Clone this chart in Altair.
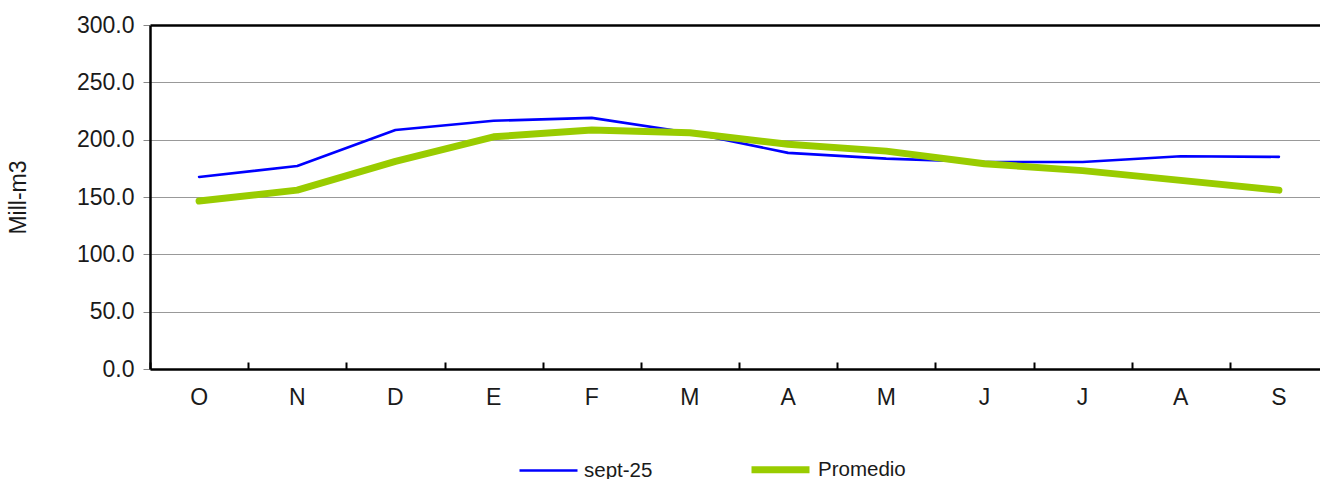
import altair as alt
import pandas as pd

# Month keys (unique) and the single-letter labels shown on the axis
month_keys = ["O", "N", "D", "E", "F", "M1", "A1", "M2", "J1", "J2", "A2", "S"]
sept25 = [167.5, 177.0, 208.5, 216.5, 219.0, 206.0, 188.5, 183.5, 180.5, 180.5, 185.5, 185.0]
promedio = [146.5, 156.0, 181.0, 202.5, 208.5, 206.0, 196.0, 190.0, 179.0, 173.0, 164.5, 156.0]
series_names = ["sept-25", "Promedio"]
series_colors = ["#0000FF", "#99CC00"]
series_widths = [2.6, 7.0]

rows = []
for name, vals in zip(series_names, [sept25, promedio]):
    for k, v in zip(month_keys, vals):
        rows.append({"mes": k, "valor": v, "serie": name})
df = pd.DataFrame(rows)

FONT = "Liberation Sans"
TEXT = "#1a1a1a"

x_scale = alt.Scale(domain=month_keys, range=[0, 1178], paddingInner=0, paddingOuter=0)
y_scale = alt.Scale(domain=[0, 300], nice=False, zero=True)
color_scale = alt.Scale(domain=series_names, range=series_colors)
width_scale = alt.Scale(domain=series_names, range=series_widths)

legend = alt.Legend(
    title=None, orient="none", direction="horizontal",
    legendX=368, legendY=412,
    symbolType="stroke", symbolSize=3364, symbolStrokeWidth=4,
    labelFont=FONT, labelFontSize=20.5, labelColor=TEXT, labelOffset=5,
    columnPadding=84,
)

y_enc = alt.Y(
    "valor:Q", scale=y_scale,
    axis=alt.Axis(
        title="Mill-m3", titleFont=FONT, titleFontSize=23, titleFontWeight="normal",
        titleColor=TEXT, titlePadding=46,
        values=[0, 50, 100, 150, 200, 250, 300], format=".1f",
        labelFont=FONT, labelFontSize=23, labelColor=TEXT, labelPadding=9,
        tickSize=7, tickColor="#888888", tickWidth=1,
        domainColor="black", domainWidth=2.5,
        grid=True,
        gridColor={"condition": {"test": "datum.value === 300", "value": "black"}, "value": "#999999"},
        gridWidth={"condition": {"test": "datum.value === 300", "value": 2.5}, "value": 1.2},
    ),
)

color_enc = alt.Color("serie:N", scale=color_scale, legend=legend)
width_enc = alt.StrokeWidth("serie:N", scale=width_scale, legend=legend)

# Axis with the month letters and the heavy baseline
label_axis = alt.Axis(
    title=None, orient="bottom", labelAngle=0,
    labelExpr="slice(datum.label, 0, 1)",
    labelFont=FONT, labelFontSize=23, labelColor=TEXT, labelPadding=17,
    ticks=False, domainColor="black", domainWidth=2.5, grid=False,
)
# Second axis drawn slightly inside the plot: short inward ticks between months
tick_axis = alt.Axis(
    title=None, orient="bottom", labels=False, domain=False, grid=False,
    ticks=True, tickBand="extent", tickSize=7, tickWidth=2, tickColor="black",
    offset=-7,
)

line_blue = alt.Chart(df).transform_filter(alt.datum.serie == "sept-25").mark_line(
    strokeCap="round", strokeJoin="round"
).encode(
    x=alt.X("mes:N", sort=month_keys, scale=x_scale, axis=label_axis),
    y=y_enc, color=color_enc, strokeWidth=width_enc,
)

line_green = alt.Chart(df).transform_filter(alt.datum.serie == "Promedio").mark_line(
    strokeCap="round", strokeJoin="round"
).encode(
    x=alt.X("mes:N", sort=month_keys, scale=x_scale, axis=tick_axis),
    y=y_enc, color=color_enc, strokeWidth=width_enc,
)

chart = alt.layer(line_blue, line_green).resolve_axis(x="independent").properties(
    width=1170, height=344,
    autosize=alt.AutoSizeParams(type="none"),
    padding={"left": 150, "top": 25, "right": 0, "bottom": 110},
    background="white",
).configure_view(stroke=None)

chart.save("out.html", embed_options={"renderer": "svg", "actions": False})
